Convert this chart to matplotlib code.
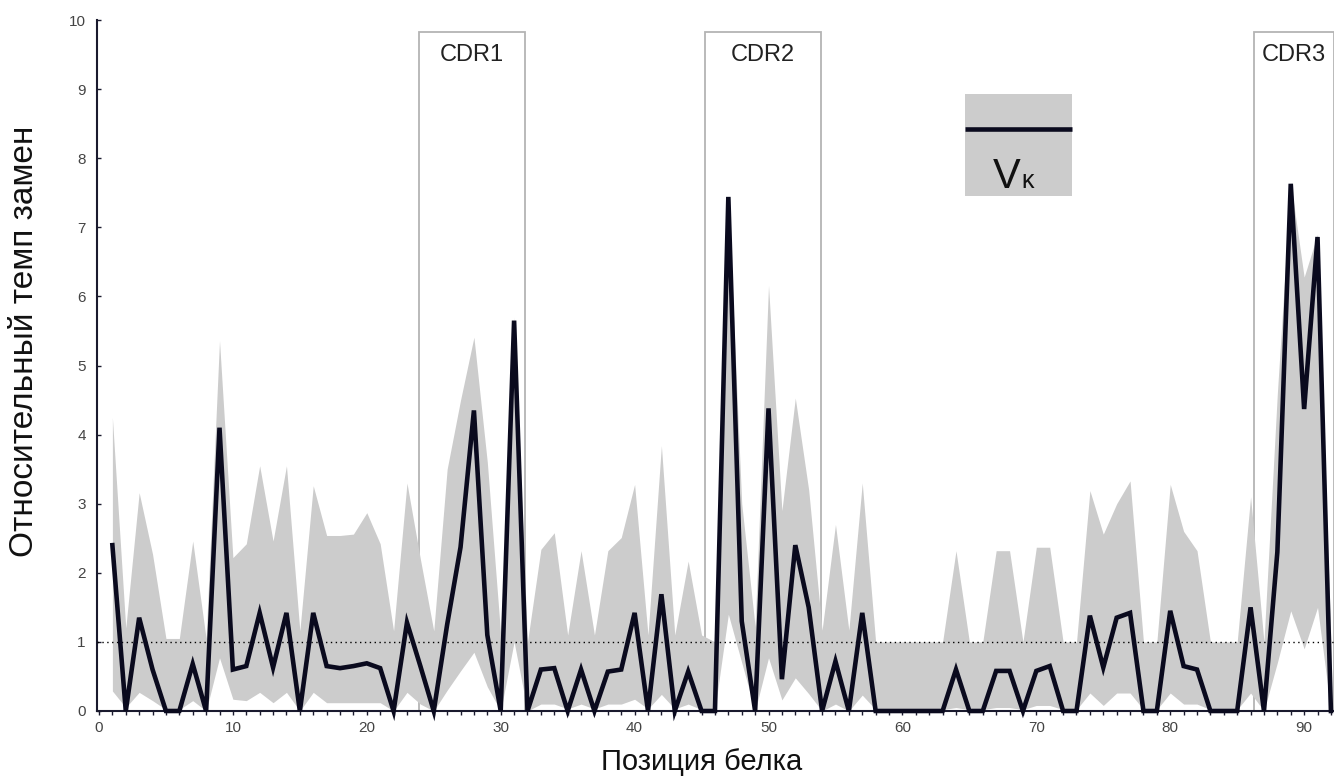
import numpy as np
import matplotlib
matplotlib.use('Agg')
import matplotlib.pyplot as plt
from matplotlib.patches import Rectangle

plt.rcParams['font.family'] = ['Liberation Sans', 'DejaVu Sans']

# positions in the protein
positions = list(range(1, 93))

# relative substitution rate (black line)
rate = [2.4, 0, 1.35, 0.6, 0, 0, 0.68, 0, 4.1, 0.6,
        0.65, 1.42, 0.63, 1.42, 0, 1.42, 0.65, 0.62, 0.65, 0.69,
        0.62, 0, 1.28, 0.65, 0, 1.25, 2.37, 4.35, 1.1, 0,
        5.65, 0, 0.6, 0.62, 0, 0.6, 0, 0.57, 0.6, 1.42,
        0, 1.69, 0, 0.57, 0, 0, 7.44, 1.3, 0, 4.38,
        0.46, 2.4, 1.5, 0, 0.72, 0, 1.42, 0, 0, 0,
        0, 0, 0, 0.6, 0, 0, 0.58, 0.58, 0, 0.58,
        0.65, 0, 0, 1.38, 0.63, 1.35, 1.42, 0, 0, 1.45,
        0.65, 0.6, 0, 0, 0, 1.5, 0, 2.3, 7.63, 4.37,
        6.86, 0]

# confidence band (gray area)
upper = [4.25, 1.2, 3.16, 2.27, 1.05, 1.05, 2.46, 1.05, 5.36, 2.22,
         2.42, 3.55, 2.46, 3.55, 1.16, 3.26, 2.54, 2.54, 2.56, 2.87,
         2.42, 1.16, 3.3, 2.2, 1.16, 3.5, 4.5, 5.41, 3.6, 1.1,
         5.7, 1.0, 2.34, 2.58, 1.1, 2.32, 1.1, 2.32, 2.51, 3.28,
         1.1, 3.84, 1.1, 2.17, 1.1, 1.0, 7.45, 3.0, 1.22, 6.16,
         2.9, 4.53, 3.2, 1.17, 2.7, 1.17, 3.3, 1.0, 1.0, 1.0,
         1.0, 1.0, 1.0, 2.32, 1.0, 1.0, 2.32, 2.32, 1.0, 2.37,
         2.37, 1.0, 1.0, 3.19, 2.56, 3.0, 3.33, 1.0, 1.0, 3.28,
         2.6, 2.32, 1.0, 1.0, 1.0, 3.1, 1.0, 4.6, 7.65, 6.28,
         6.9, 1.0]
lower = [0.29, 0.05, 0.27, 0.15, 0.02, 0.02, 0.15, 0, 0.77, 0.17,
         0.15, 0.27, 0.12, 0.27, 0, 0.27, 0.12, 0.12, 0.12, 0.12,
         0.12, 0, 0.27, 0.1, 0, 0.3, 0.58, 0.85, 0.35, 0,
         1.0, 0, 0.1, 0.1, 0.03, 0.1, 0.03, 0.1, 0.1, 0.17,
         0.03, 0.24, 0.03, 0.1, 0.02, 0.02, 1.4, 0.7, 0, 0.77,
         0.16, 0.48, 0.25, 0, 0.1, 0, 0.23, 0.02, 0.02, 0.02,
         0.02, 0.02, 0.02, 0.05, 0.02, 0.02, 0.05, 0.05, 0.02, 0.08,
         0.08, 0.02, 0.02, 0.26, 0.08, 0.26, 0.26, 0.02, 0.02, 0.26,
         0.1, 0.1, 0.02, 0.02, 0.02, 0.26, 0, 0.7, 1.45, 0.9,
         1.5, 0]

# CDR regions (start, end) and labels
cdr_labels = ['CDR1', 'CDR2', 'CDR3']
cdr_start = [23.9, 45.26, 86.26]
cdr_end = [31.8, 53.9, 92.2]

fig = plt.figure(figsize=(13.34, 7.79), dpi=100)
ax = fig.add_axes([0.0727, 0.0873, 0.9273, 0.887])

band_color = '#cccccc'
line_color = '#0a0a1e'

ax.fill_between(positions, lower, upper, color=band_color, lw=0, zorder=2)
ax.axhline(1, color='k', lw=1, ls=(0, (1, 2.5)), zorder=3)
ax.plot(positions, rate, color=line_color, lw=3.3, zorder=4, clip_on=False,
        solid_joinstyle='miter')

for lab, s, e in zip(cdr_labels, cdr_start, cdr_end):
    ax.add_patch(Rectangle((s, 0), e - s, 9.82, fill=False, edgecolor='#b4b4b4',
                           lw=1.3, zorder=1, clip_on=False))
    ax.text((s + e) / 2, 9.49, lab, ha='center', va='center', fontsize=17,
            color='#222222')

# legend box
ax.add_patch(Rectangle((64.7, 7.45), 8.0, 1.48, color=band_color, lw=0, zorder=2))
ax.plot([64.7, 72.7], [8.42, 8.42], color=line_color, lw=3.3, zorder=4,
        solid_capstyle='butt')
ax.text(68.8, 7.57, 'V', ha='right', va='baseline', fontsize=30, color='#111111')
ax.text(68.85, 7.57, 'κ', ha='left', va='baseline', fontsize=18, color='#111111')

ax.set_xlim(-0.15, 92.23)
ax.set_ylim(0, 10)
ax.spines['top'].set_visible(False)
ax.spines['right'].set_visible(False)
for sp in ['left', 'bottom']:
    ax.spines[sp].set_color('#1a1a2e')
    ax.spines[sp].set_linewidth(1.5)

ax.set_yticks(range(0, 11))
ax.set_xticks(range(0, 91, 10))
ax.set_xticks(range(0, 93), minor=True)
ax.tick_params(axis='y', direction='in', length=3, width=1, pad=8,
               labelsize=11, labelcolor='#444444', color='#1a1a2e')
ax.tick_params(axis='x', which='both', direction='out', length=3, width=1,
               pad=4, labelsize=11, labelcolor='#444444', color='#1a1a2e')

fig.text(0.018, 0.562, 'Относительный темп замен', rotation=90, ha='center',
         va='center', fontsize=24, color='#111111')
fig.text(0.526, 0.022, 'Позиция белка', ha='center', va='center', fontsize=21,
         color='#111111')

fig.savefig('out.png', dpi=100)
